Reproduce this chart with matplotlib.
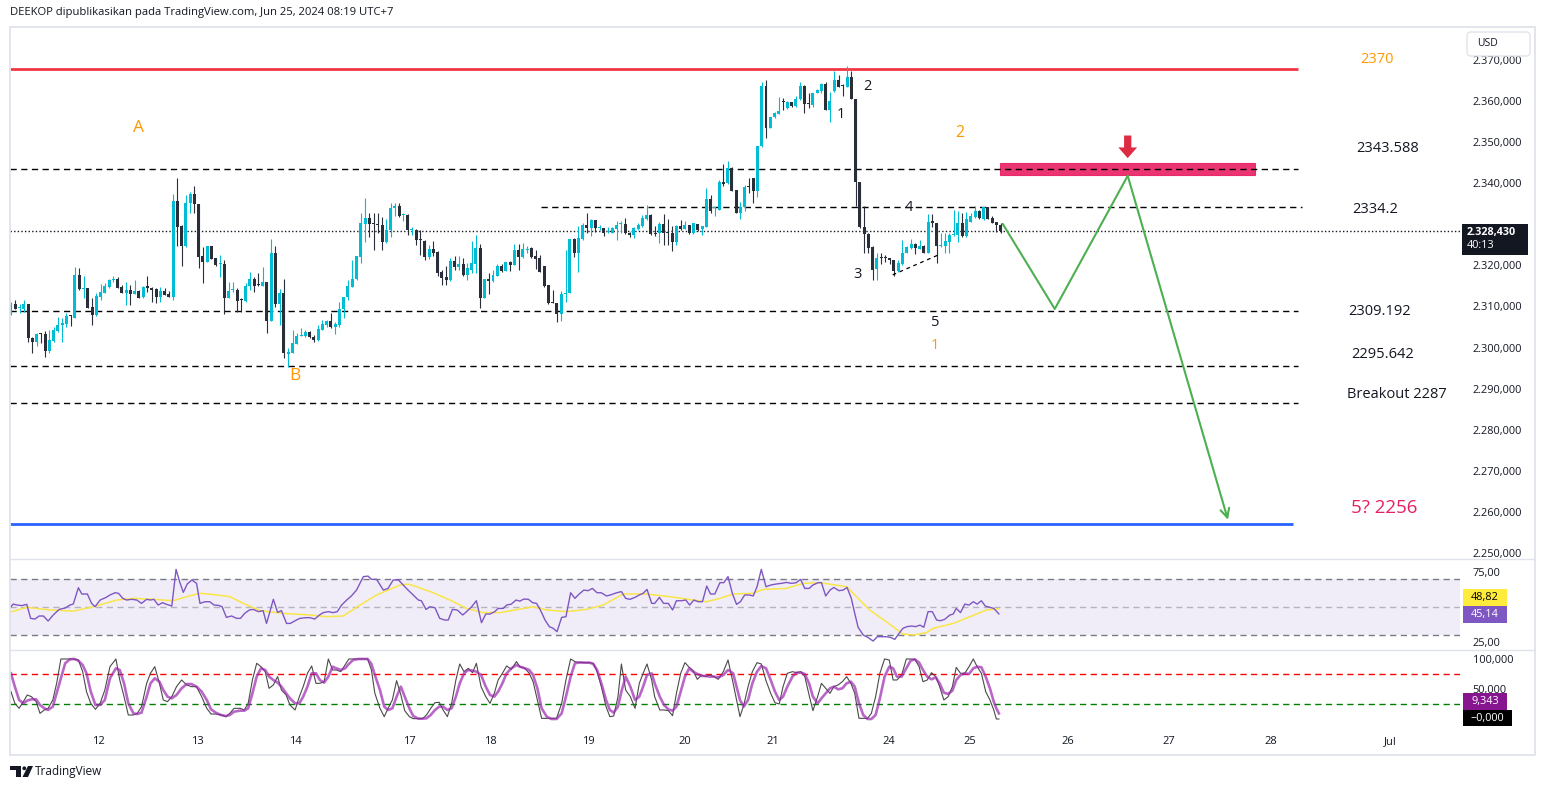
import matplotlib
matplotlib.use('Agg')
import matplotlib.pyplot as plt
from matplotlib.patches import Rectangle, FancyBboxPatch, Polygon, Circle, FancyArrow
from matplotlib.lines import Line2D
from matplotlib.transforms import Affine2D
import numpy as np

plt.rcParams['font.family'] = ['Open Sans', 'DejaVu Sans']

W, H = 1545, 789

# ── DATA: hourly XAUUSD candles (Jun 12 -> Jun 25) ─────────────────
opens = [
    2308.2, 2310.5, 2309.7, 2309.5, 2310.5, 2302.4, 2301.4, 2303.3, 2303.3, 2299.2,
    2301.7, 2304.1, 2305.5, 2305.7, 2307.8, 2307.3, 2317.6, 2314.3, 2314.4, 2309.9,
    2307.9, 2312.2, 2313.4, 2314.8, 2316.4, 2316.7, 2314.8, 2313.4, 2314.0, 2313.0,
    2313.8, 2312.4, 2314.7, 2314.6, 2314.2, 2312.2, 2313.8, 2313.0, 2312.4, 2335.7,
    2329.6, 2324.7, 2335.1, 2337.4, 2334.9, 2322.3, 2320.9, 2324.7, 2321.7, 2320.3,
    2320.4, 2312.1, 2313.9, 2314.0, 2311.6, 2311.4, 2315.0, 2316.7, 2315.3, 2315.1,
    2315.9, 2306.5, 2323.1, 2310.5, 2313.2, 2298.5, 2298.8, 2300.9, 2302.7, 2302.9,
    2303.7, 2302.6, 2301.8, 2304.4, 2305.6, 2306.5, 2305.1, 2305.5, 2309.5, 2312.2,
    2314.8, 2316.7, 2322.1, 2330.1, 2331.6, 2330.1, 2330.0, 2329.8, 2325.8, 2328.6,
    2333.9, 2334.4, 2332.3, 2332.3, 2328.6, 2328.6, 2326.2, 2326.0, 2322.1, 2324.0,
    2323.3, 2318.3, 2317.2, 2316.4, 2321.1, 2319.5, 2320.3, 2317.7, 2319.0, 2320.3,
    2324.3, 2312.1, 2316.7, 2316.2, 2317.5, 2319.8, 2318.7, 2320.8, 2320.1, 2323.7,
    2322.1, 2323.8, 2324.3, 2322.3, 2321.7, 2319.8, 2315.2, 2311.0, 2310.9, 2308.1,
    2313.0, 2313.4, 2326.4, 2323.1, 2326.4, 2329.8, 2329.2, 2331.0, 2329.0, 2329.0,
    2328.1, 2328.0, 2328.8, 2330.0, 2330.1, 2328.0, 2327.5, 2328.8, 2329.7, 2331.3,
    2332.3, 2328.0, 2327.8, 2330.1, 2328.0, 2328.0, 2325.8, 2329.6, 2328.8, 2329.8,
    2327.8, 2330.0, 2328.8, 2329.4, 2336.1, 2334.0, 2333.5, 2340.4, 2340.0, 2343.8,
    2338.4, 2332.8, 2334.3, 2339.1, 2341.2, 2338.2, 2349.1, 2363.7, 2353.4, 2356.0,
    2356.8, 2359.8, 2358.2, 2359.8, 2358.9, 2360.4, 2363.7, 2359.3, 2359.0, 2361.9,
    2362.5, 2364.1, 2357.8, 2362.5, 2365.0, 2363.7, 2363.5, 2365.9, 2360.4, 2340.2,
    2329.4, 2327.7, 2324.4, 2319.1, 2321.8, 2321.8, 2321.5, 2321.3, 2318.7, 2320.4,
    2323.1, 2324.2, 2325.2, 2324.0, 2324.8, 2323.1, 2330.5, 2330.4, 2324.6, 2324.7,
    2325.8, 2327.3, 2327.3, 2330.2, 2327.2, 2330.6, 2331.7, 2333.3, 2331.2, 2334.1,
    2331.5, 2330.5, 2329.8,
]
highs = [
    2311.0, 2311.7, 2310.5, 2311.6, 2310.6, 2302.6, 2303.5, 2303.6, 2304.1, 2304.3,
    2305.1, 2307.5, 2307.3, 2308.3, 2307.9, 2319.5, 2319.3, 2317.4, 2314.4, 2312.1,
    2313.2, 2315.4, 2315.6, 2316.8, 2317.4, 2317.2, 2315.2, 2316.0, 2315.2, 2316.4,
    2314.0, 2315.0, 2317.4, 2314.8, 2314.4, 2314.8, 2314.4, 2313.8, 2337.4, 2341.2,
    2329.8, 2337.1, 2337.9, 2339.3, 2334.9, 2324.4, 2324.7, 2324.7, 2321.9, 2322.5,
    2321.3, 2315.9, 2316.0, 2314.4, 2312.1, 2315.6, 2318.3, 2317.1, 2318.1, 2319.7,
    2315.9, 2326.5, 2324.6, 2314.3, 2316.7, 2299.8, 2304.3, 2303.6, 2304.7, 2304.3,
    2304.1, 2303.1, 2305.5, 2306.7, 2306.7, 2308.3, 2306.3, 2311.2, 2312.4, 2316.4,
    2321.3, 2322.3, 2332.7, 2336.3, 2332.8, 2332.7, 2332.7, 2331.8, 2331.4, 2335.1,
    2335.1, 2335.3, 2332.8, 2332.4, 2329.4, 2328.8, 2328.6, 2326.2, 2325.0, 2325.9,
    2323.5, 2318.9, 2319.8, 2321.9, 2322.3, 2322.3, 2321.7, 2320.5, 2326.0, 2327.4,
    2325.2, 2316.7, 2318.1, 2318.9, 2320.3, 2320.3, 2320.8, 2321.0, 2325.2, 2325.2,
    2325.4, 2324.7, 2324.4, 2323.7, 2322.5, 2319.8, 2315.2, 2314.0, 2310.9, 2313.8,
    2323.7, 2326.4, 2326.6, 2329.6, 2330.2, 2332.8, 2331.4, 2331.0, 2329.8, 2329.0,
    2329.4, 2329.4, 2330.8, 2330.8, 2331.6, 2328.2, 2329.4, 2330.4, 2332.3, 2334.7,
    2332.4, 2329.6, 2330.6, 2332.5, 2331.3, 2329.6, 2329.8, 2331.0, 2330.9, 2329.8,
    2330.4, 2330.1, 2329.6, 2338.9, 2337.1, 2334.2, 2340.8, 2344.7, 2345.5, 2343.9,
    2338.4, 2335.5, 2339.6, 2341.2, 2341.2, 2349.1, 2364.7, 2365.1, 2356.2, 2357.4,
    2360.9, 2360.8, 2360.1, 2359.8, 2361.1, 2364.5, 2363.9, 2361.9, 2362.0, 2362.8,
    2364.3, 2364.7, 2362.3, 2367.4, 2366.3, 2364.1, 2368.5, 2367.4, 2360.4, 2340.4,
    2334.5, 2328.0, 2324.6, 2322.9, 2322.9, 2322.5, 2321.7, 2321.3, 2321.3, 2326.2,
    2324.6, 2326.4, 2325.5, 2326.2, 2325.0, 2332.5, 2332.5, 2330.4, 2327.8, 2328.0,
    2327.8, 2333.5, 2333.3, 2332.7, 2333.1, 2332.7, 2334.5, 2333.5, 2334.3, 2334.1,
    2331.9, 2330.6, 2330.4,
]
lows = [
    2308.0, 2309.4, 2308.5, 2308.7, 2301.4, 2298.6, 2300.5, 2301.2, 2297.6, 2298.6,
    2301.4, 2303.9, 2301.4, 2305.1, 2305.3, 2307.2, 2314.0, 2312.1, 2309.7, 2305.5,
    2307.7, 2311.7, 2313.2, 2314.4, 2316.0, 2314.4, 2313.2, 2310.4, 2310.4, 2313.0,
    2312.0, 2312.0, 2313.6, 2311.2, 2310.8, 2311.2, 2312.7, 2312.2, 2311.6, 2324.8,
    2319.8, 2324.5, 2332.8, 2332.7, 2319.3, 2315.6, 2320.9, 2321.5, 2319.8, 2317.2,
    2308.1, 2312.1, 2313.6, 2308.7, 2308.7, 2311.2, 2314.0, 2313.6, 2315.0, 2315.1,
    2303.6, 2306.5, 2309.9, 2305.5, 2297.5, 2295.4, 2298.6, 2300.9, 2302.7, 2302.6,
    2302.4, 2301.4, 2301.7, 2304.3, 2305.1, 2304.7, 2303.3, 2305.1, 2307.3, 2311.6,
    2314.7, 2316.4, 2320.7, 2325.8, 2327.0, 2323.7, 2327.8, 2323.7, 2325.4, 2327.0,
    2332.1, 2331.8, 2330.9, 2327.5, 2327.4, 2325.0, 2322.5, 2321.3, 2321.5, 2322.3,
    2317.4, 2315.2, 2315.2, 2316.2, 2319.0, 2319.0, 2317.4, 2316.4, 2318.1, 2318.2,
    2309.7, 2312.1, 2313.0, 2315.9, 2317.4, 2318.5, 2318.7, 2318.7, 2320.1, 2318.9,
    2321.9, 2322.9, 2321.9, 2319.2, 2318.5, 2314.8, 2310.7, 2310.8, 2306.3, 2306.5,
    2311.2, 2313.4, 2322.0, 2318.5, 2326.2, 2328.0, 2327.2, 2328.2, 2328.6, 2327.2,
    2327.8, 2327.8, 2326.3, 2327.8, 2327.6, 2327.0, 2326.6, 2328.6, 2329.4, 2331.0,
    2327.4, 2327.1, 2325.5, 2324.9, 2324.9, 2323.5, 2325.0, 2328.6, 2328.8, 2327.6,
    2327.6, 2328.4, 2327.4, 2329.4, 2332.7, 2332.1, 2333.5, 2339.2, 2339.8, 2338.2,
    2332.7, 2331.4, 2333.3, 2337.5, 2335.1, 2336.7, 2348.7, 2351.1, 2353.4, 2355.8,
    2356.8, 2357.8, 2358.0, 2358.6, 2358.6, 2360.3, 2357.0, 2358.2, 2358.5, 2361.9,
    2361.9, 2357.7, 2355.0, 2362.3, 2363.5, 2361.2, 2363.3, 2360.4, 2334.5, 2329.0,
    2323.1, 2323.1, 2316.5, 2316.5, 2320.3, 2320.9, 2320.3, 2317.4, 2318.5, 2320.1,
    2323.0, 2324.1, 2322.8, 2323.9, 2323.0, 2322.9, 2329.4, 2320.7, 2324.4, 2323.0,
    2323.1, 2327.2, 2325.8, 2327.0, 2326.8, 2330.6, 2331.5, 2331.2, 2331.1, 2331.2,
    2330.3, 2328.2, 2328.0,
]
closes = [
    2310.5, 2309.5, 2309.8, 2310.5, 2302.4, 2301.4, 2303.3, 2303.2, 2299.2, 2301.8,
    2304.3, 2305.6, 2305.9, 2307.8, 2307.7, 2317.6, 2314.2, 2314.4, 2309.7, 2307.9,
    2312.5, 2313.5, 2315.0, 2316.4, 2316.8, 2314.6, 2313.4, 2314.0, 2313.0, 2313.8,
    2312.1, 2314.8, 2314.6, 2314.0, 2312.2, 2313.8, 2312.7, 2312.2, 2335.7, 2329.4,
    2324.8, 2335.1, 2337.4, 2334.9, 2322.1, 2320.9, 2324.7, 2321.5, 2320.2, 2320.4,
    2312.1, 2313.8, 2314.0, 2311.4, 2311.5, 2315.1, 2316.7, 2315.0, 2315.2, 2315.9,
    2306.5, 2323.1, 2310.5, 2313.2, 2298.6, 2298.9, 2301.1, 2302.9, 2303.1, 2303.7,
    2302.5, 2301.8, 2304.5, 2305.7, 2306.5, 2305.1, 2305.7, 2309.5, 2312.2, 2315.0,
    2316.8, 2322.3, 2330.4, 2331.6, 2330.0, 2330.0, 2329.9, 2325.8, 2328.6, 2333.9,
    2334.4, 2332.0, 2332.4, 2328.6, 2328.7, 2326.2, 2326.1, 2322.1, 2324.0, 2323.1,
    2318.2, 2317.0, 2316.4, 2321.1, 2319.7, 2320.3, 2317.7, 2319.4, 2320.6, 2324.3,
    2312.1, 2316.7, 2316.2, 2317.7, 2319.8, 2318.7, 2320.8, 2320.1, 2323.7, 2322.1,
    2323.9, 2323.9, 2322.1, 2321.6, 2318.5, 2315.0, 2310.9, 2310.9, 2308.1, 2313.0,
    2313.4, 2326.4, 2323.1, 2326.6, 2329.8, 2329.2, 2331.0, 2329.0, 2329.1, 2327.8,
    2328.2, 2329.0, 2329.8, 2330.1, 2327.8, 2327.5, 2329.0, 2329.8, 2331.6, 2332.3,
    2327.6, 2327.6, 2330.1, 2328.0, 2327.9, 2325.8, 2329.6, 2328.8, 2329.8, 2327.8,
    2330.2, 2328.6, 2329.6, 2336.1, 2333.3, 2334.1, 2340.4, 2339.8, 2343.8, 2338.2,
    2332.8, 2334.3, 2339.0, 2339.0, 2338.2, 2349.1, 2363.7, 2353.4, 2356.0, 2357.0,
    2357.6, 2359.7, 2359.8, 2358.9, 2360.5, 2363.7, 2359.2, 2359.2, 2361.9, 2362.7,
    2364.1, 2357.8, 2360.0, 2365.1, 2363.5, 2363.6, 2365.9, 2360.4, 2340.4, 2329.4,
    2327.7, 2324.3, 2318.9, 2321.7, 2321.7, 2321.7, 2321.4, 2318.7, 2320.5, 2323.1,
    2324.4, 2325.2, 2324.2, 2324.8, 2323.1, 2330.5, 2330.4, 2324.6, 2325.0, 2326.0,
    2327.4, 2327.4, 2330.2, 2327.2, 2331.3, 2331.9, 2333.3, 2331.5, 2334.1, 2331.4,
    2330.4, 2329.8, 2328.4,
]
last_price = 2328.43

# horizontal levels drawn on the chart
red_level = 2367.8
dash_levels = [2343.4, 2309.0, 2295.5, 2286.4]
mid_level = 2334.2
blue_level = 2257.0

# projected path (bar index, price)
path_x = [232.5, 244.7, 261.8, 285.3]
path_y = [2330.1, 2309.4, 2341.8, 2258.1]

# date axis
date_pos = [20.4, 43.6, 66.6, 93.3, 112.3, 135.3, 158.0, 178.6, 205.8, 224.8, 247.8, 271.4, 295.4, 323.3]
date_lab = ['12', '13', '14', '17', '18', '19', '20', '21', '24', '25', '26', '27', '28', 'Jul']

# RSI (bar, value)
rsi_pts = [
    (0.0, 50.2), (0.5, 52.1), (1.5, 51.4), (2.5, 51.0), (3.7, 51.9), (4.6, 41.9), (5.6, 41.4), (6.6, 43.6), (7.6, 43.6), (8.7, 40.0),
    (9.9, 44.3), (11.3, 48.3), (12.7, 49.3), (13.8, 51.4), (14.6, 52.1), (15.8, 63.8), (16.6, 59.3), (17.9, 59.3), (18.9, 52.6), (19.7, 50.2),
    (20.9, 55.0), (22.3, 56.9), (23.2, 58.6), (24.4, 60.2), (25.2, 59.8), (26.2, 56.2), (27.1, 55.0), (28.3, 55.5), (29.5, 55.0), (30.6, 52.6),
    (31.8, 55.5), (32.7, 55.0), (33.5, 55.5), (34.5, 51.4), (35.5, 53.1), (36.5, 51.9), (37.7, 50.7), (38.7, 76.9), (39.6, 67.4), (40.4, 60.5),
    (41.3, 66.4), (42.4, 69.3), (43.5, 66.9), (44.3, 52.6), (45.5, 53.8), (46.6, 53.8), (47.6, 51.4), (48.6, 51.2), (49.5, 50.2), (50.5, 42.6),
    (51.7, 43.6), (52.9, 41.9), (53.8, 41.9), (54.8, 45.5), (55.9, 47.9), (56.8, 48.3), (58.0, 46.7), (59.1, 47.4), (59.9, 38.3), (60.7, 46.7),
    (61.5, 55.5), (62.5, 46.2), (63.4, 47.4), (64.6, 38.3), (65.5, 38.3), (66.6, 40.2), (67.7, 41.9), (69.1, 42.4), (70.1, 42.4), (71.2, 41.4),
    (72.3, 44.3), (73.2, 46.0), (74.4, 46.7), (75.5, 46.0), (76.5, 46.7), (77.5, 51.4), (78.7, 55.0), (79.8, 57.9), (81.0, 62.1), (82.6, 71.7),
    (83.7, 72.1), (84.5, 69.8), (85.7, 69.8), (87.3, 62.1), (88.4, 63.3), (89.6, 69.3), (90.8, 69.3), (91.6, 66.9), (92.7, 63.3), (94.3, 58.6),
    (95.5, 55.0), (96.2, 54.5), (97.3, 48.3), (98.2, 50.2), (99.4, 49.5), (100.5, 41.9), (101.7, 40.7), (102.5, 40.7), (103.5, 48.3), (104.6, 47.9),
    (105.9, 44.3), (106.8, 46.7), (108.0, 50.2), (109.1, 54.5), (110.3, 38.8), (111.3, 45.0), (112.3, 45.0), (113.4, 46.7), (114.2, 49.0), (115.4, 49.0),
    (116.2, 51.4), (117.3, 52.1), (118.4, 55.0), (119.3, 54.2), (120.2, 55.7), (121.3, 55.5), (122.3, 53.1), (123.2, 52.6), (124.1, 47.9), (125.2, 40.7),
    (126.2, 36.0), (127.1, 34.8), (128.0, 32.4), (129.1, 42.6), (130.1, 43.1), (131.2, 60.2), (132.2, 56.2), (133.2, 59.3), (134.3, 62.1), (135.3, 61.7),
    (136.3, 63.3), (137.4, 60.2), (138.4, 60.2), (139.6, 57.9), (140.5, 58.6), (142.0, 60.2), (143.1, 61.0), (144.1, 56.2), (145.1, 55.5), (146.3, 56.9),
    (147.3, 58.6), (148.2, 59.8), (149.1, 62.6), (150.2, 52.6), (150.9, 52.6), (152.0, 56.9), (153.0, 52.6), (154.1, 52.6), (155.1, 47.9), (156.0, 54.5),
    (157.2, 54.5), (158.2, 55.0), (159.1, 51.4), (160.1, 55.0), (161.1, 53.8), (162.1, 53.8), (163.1, 65.0), (164.0, 59.3), (165.0, 59.3), (166.2, 67.4),
    (167.1, 67.4), (168.1, 71.7), (169.1, 59.8), (170.1, 51.9), (171.0, 53.8), (172.0, 58.6), (173.1, 58.6), (174.0, 57.9), (174.9, 64.5), (175.9, 76.9),
    (177.0, 64.5), (178.1, 65.7), (179.3, 66.4), (180.6, 66.9), (181.8, 67.6), (183.0, 66.9), (184.1, 67.4), (185.1, 69.8), (186.1, 63.3), (187.1, 63.3),
    (188.0, 65.7), (189.2, 67.4), (190.0, 67.4), (191.0, 57.9), (192.0, 62.1), (192.9, 64.0), (194.1, 61.7), (195.1, 62.1), (196.0, 64.0), (197.0, 56.2),
    (197.8, 45.5), (198.6, 35.5), (199.8, 30.0), (200.9, 28.3), (202.1, 25.7), (203.1, 28.8), (204.1, 28.8), (205.2, 28.8), (206.2, 28.3), (207.2, 26.9),
    (208.2, 31.2), (209.1, 34.8), (210.1, 36.0), (211.1, 36.4), (212.1, 36.0), (213.1, 37.1), (214.0, 35.5), (215.0, 46.7), (216.0, 46.7), (217.0, 40.7),
    (217.9, 40.2), (218.9, 41.2), (220.1, 44.3), (220.9, 45.0), (221.6, 49.0), (222.6, 46.0), (223.6, 52.1), (224.6, 51.4), (225.6, 53.8), (226.5, 52.1),
    (227.5, 54.5), (228.4, 50.7), (229.5, 49.8), (230.4, 49.0), (231.6, 45.1),
]
rsi_ma_pts = [
    (0.0, 46.5), (3.7, 49.8), (9.1, 47.9), (14.6, 47.1), (19.3, 50.2), (24.8, 55.0), (28.7, 56.2), (33.4, 55.5), (38.0, 54.5), (41.2, 57.4),
    (44.3, 59.8), (47.4, 59.0), (51.3, 57.4), (54.5, 52.6), (58.4, 47.4), (63.8, 45.5), (70.1, 44.3), (74.0, 43.1), (77.9, 43.6), (81.8, 51.4),
    (85.7, 58.6), (88.8, 62.6), (91.2, 65.7), (93.1, 66.4), (95.1, 64.5), (99.0, 60.2), (102.9, 55.0), (106.8, 49.0), (110.7, 46.0), (114.6, 46.0),
    (119.3, 48.5), (122.4, 50.2), (125.6, 47.9), (130.2, 46.7), (134.9, 48.3), (138.8, 51.4), (143.5, 59.3), (149.0, 59.3), (154.5, 57.4), (159.9, 55.0),
    (163.1, 53.8), (166.2, 56.2), (169.3, 59.3), (174.0, 59.8), (176.3, 62.6), (181.8, 63.3), (185.7, 66.9), (189.6, 67.4), (195.9, 64.5), (198.2, 57.4),
    (201.3, 47.9), (205.2, 39.5), (209.1, 30.7), (211.5, 30.0), (214.6, 31.7), (216.2, 34.8), (220.9, 38.3), (224.8, 43.1), (228.7, 47.9), (231.6, 48.8),
]

# Stochastic %K / %D (bar, value)
stoch_k_pts = [
    (0.0, 45.6), (0.9, 26.1), (1.9, 17.8), (2.9, 28.9), (3.8, 40.0), (4.8, 37.2), (5.9, 28.9), (6.8, 9.4), (7.8, 15.0), (8.7, 17.8),
    (9.8, 31.7), (10.7, 59.4), (11.7, 100), (12.7, 100), (13.8, 100), (14.8, 100), (15.8, 98.3), (16.8, 78.9), (17.7, 45.6), (18.7, 26.1),
    (19.8, 16.1), (20.9, 26.1), (22.0, 48.3), (23.2, 87.2), (24.6, 100), (25.5, 65.0), (26.5, 37.2), (27.5, 6.7), (28.7, 6.7), (29.6, 9.4),
    (30.6, 20.6), (31.8, 59.4), (32.7, 76.1), (33.7, 87.2), (34.8, 59.4), (35.7, 31.7), (36.7, 28.9), (37.7, 37.2), (38.8, 53.9), (40.0, 65.0),
    (41.2, 56.7), (42.3, 53.9), (43.5, 53.9), (44.7, 37.2), (45.9, 17.8), (46.9, 8.3), (48.0, 8.3), (49.2, 6.7), (50.4, 3.9), (51.3, 9.4),
    (52.3, 17.8), (53.7, 17.8), (54.7, 15.0), (55.6, 26.1), (56.6, 65.0), (57.6, 92.8), (58.6, 87.2), (59.6, 78.9), (60.5, 51.1), (61.5, 56.7),
    (62.5, 70.6), (63.4, 48.3), (64.5, 40.0), (65.4, 23.3), (66.6, 15.0), (67.6, 37.2), (68.5, 53.9), (69.5, 76.1), (70.5, 88.3), (71.5, 59.4),
    (72.4, 59.4), (73.4, 62.2), (74.4, 100), (75.4, 81.7), (76.3, 81.7), (77.3, 78.9), (78.3, 90.0), (79.2, 100), (80.2, 100), (81.4, 100),
    (82.6, 100), (83.6, 100), (84.5, 81.7), (85.3, 42.8), (86.5, 17.8), (87.5, 3.9), (88.4, 17.8), (89.4, 31.7), (90.4, 63.9), (91.4, 40.0),
    (92.3, 13.9), (93.4, 3.9), (94.3, 0.6), (95.5, 0.6), (96.5, 0.6), (97.4, 6.7), (98.4, 17.8), (99.4, 27.2), (100.4, 27.8), (101.3, 15.0),
    (102.3, 3.9), (103.3, 26.1), (104.3, 65.0), (105.2, 91.7), (106.2, 78.9), (107.2, 84.4), (108.2, 77.2), (109.1, 92.8), (110.2, 53.9), (111.3, 37.2),
    (112.3, 26.1), (113.3, 42.8), (114.2, 65.0), (115.2, 76.1), (116.2, 88.3), (117.3, 82.8), (118.5, 95.6), (119.3, 87.2), (120.5, 84.4), (121.5, 76.1),
    (122.4, 62.2), (123.4, 31.7), (124.4, 1.1), (125.6, 1.1), (126.7, 1.1), (127.9, 1.1), (129.1, 26.1), (130.1, 65.0), (131.2, 100), (132.2, 95.6),
    (133.4, 93.9), (134.5, 93.9), (135.6, 93.9), (136.5, 92.8), (137.4, 78.9), (138.4, 53.9), (139.5, 20.6), (140.4, 3.9), (141.3, 5.0), (142.3, 37.2),
    (143.1, 91.7), (144.1, 48.3), (145.2, 37.2), (146.3, 17.8), (147.3, 59.4), (148.2, 76.1), (149.1, 91.7), (150.2, 65.0), (150.9, 37.2), (152.1, 15.0),
    (153.1, 15.0), (154.1, 13.9), (155.1, 5.6), (156.0, 42.8), (157.0, 76.1), (158.0, 93.9), (159.0, 86.1), (159.9, 80.6), (160.9, 66.1), (161.9, 73.3),
    (162.9, 70.6), (163.8, 73.3), (164.8, 70.6), (165.8, 66.1), (167.0, 78.9), (168.1, 98.3), (169.3, 59.4), (170.1, 31.7), (170.9, 3.9), (171.8, 23.3),
    (172.8, 53.9), (173.8, 78.9), (174.9, 93.9), (175.9, 91.7), (177.0, 63.9), (178.1, 42.8), (179.1, 27.2), (180.1, 25.0), (181.0, 53.9), (182.0, 76.1),
    (183.2, 78.9), (184.1, 77.2), (185.2, 78.9), (186.1, 70.6), (187.1, 40.0), (188.0, 13.9), (189.1, 37.2), (190.0, 59.4), (191.0, 51.1), (192.0, 42.8),
    (192.9, 53.9), (193.9, 56.7), (194.9, 62.2), (195.9, 70.6), (196.9, 59.4), (197.8, 42.8), (198.8, 1.1), (199.8, 1.1), (200.8, 1.1), (201.7, 9.4),
    (202.7, 37.2), (203.7, 76.1), (204.8, 100), (205.9, 98.3), (206.8, 65.0), (207.7, 65.0), (208.8, 73.3), (209.9, 100), (210.9, 100), (211.9, 99.4),
    (212.9, 87.2), (213.8, 62.2), (214.8, 65.0), (215.8, 77.2), (216.8, 70.6), (217.7, 53.9), (218.7, 31.7), (219.7, 37.2), (220.7, 53.9), (221.6, 86.1),
    (222.6, 76.1), (223.6, 76.1), (224.6, 87.2), (225.6, 100), (226.5, 87.2), (227.5, 76.1), (228.5, 45.6), (229.5, 31.7), (230.4, 15.0), (231.0, 0.0),
    (231.6, 0.0),
]
stoch_d_pts = [
    (0.0, 76.1), (0.9, 53.9), (1.9, 31.7), (2.9, 26.1), (3.8, 30.6), (4.8, 32.8), (5.9, 32.8), (6.8, 23.3), (7.8, 17.8), (8.7, 15.0),
    (9.8, 20.6), (10.7, 42.8), (11.7, 67.8), (12.7, 92.8), (13.8, 99.4), (14.8, 100), (15.8, 97.2), (16.8, 90.0), (17.7, 76.1), (18.7, 45.6),
    (19.8, 23.3), (20.9, 23.3), (22.0, 31.7), (23.2, 67.8), (24.6, 84.4), (25.5, 81.7), (26.5, 59.4), (27.5, 26.1), (28.7, 9.4), (29.6, 8.3),
    (30.6, 10.6), (31.8, 37.2), (32.7, 59.4), (33.7, 67.8), (34.8, 62.2), (35.7, 48.3), (36.7, 37.2), (37.7, 34.4), (38.8, 40.0), (40.0, 51.1),
    (41.2, 58.3), (42.3, 58.3), (43.5, 53.9), (44.7, 45.6), (45.9, 31.7), (46.9, 16.1), (48.0, 10.6), (49.2, 6.7), (50.4, 5.0), (51.3, 6.7),
    (52.3, 12.2), (53.7, 13.9), (54.7, 13.9), (55.6, 17.8), (56.6, 42.8), (57.6, 70.6), (58.6, 84.4), (59.6, 81.7), (60.5, 70.6), (61.5, 65.0),
    (62.5, 60.6), (63.4, 53.9), (64.5, 42.8), (65.4, 34.4), (66.6, 26.1), (67.6, 26.1), (68.5, 37.2), (69.5, 53.9), (70.5, 76.1), (71.5, 76.1),
    (72.4, 65.0), (73.4, 60.6), (74.4, 70.6), (75.4, 87.2), (76.3, 84.4), (77.3, 81.7), (78.3, 84.4), (79.2, 91.7), (80.2, 98.3), (81.4, 100),
    (82.6, 100), (83.6, 100), (84.5, 91.7), (85.3, 73.3), (86.5, 48.3), (87.5, 20.6), (88.4, 15.0), (89.4, 17.8), (90.4, 37.2), (91.4, 53.9),
    (92.3, 37.2), (93.4, 17.8), (94.3, 5.0), (95.5, 0.6), (96.5, 0.6), (97.4, 1.1), (98.4, 6.7), (99.4, 15.0), (100.4, 20.6), (101.3, 20.6),
    (102.3, 15.0), (103.3, 17.8), (104.3, 37.2), (105.2, 59.4), (106.2, 76.1), (107.2, 81.7), (108.2, 80.6), (109.1, 78.9), (110.2, 73.3), (111.3, 53.9),
    (112.3, 40.0), (113.3, 37.2), (114.2, 45.6), (115.2, 59.4), (116.2, 76.1), (117.3, 84.4), (118.5, 90.0), (119.3, 87.2), (120.5, 84.4), (121.5, 81.7),
    (122.4, 73.3), (123.4, 51.1), (124.4, 17.8), (125.6, 3.9), (126.7, 0.0), (127.9, 0.0), (129.1, 9.4), (130.1, 37.2), (131.2, 70.6), (132.2, 92.8),
    (133.4, 94.4), (134.5, 93.9), (135.6, 93.9), (136.5, 91.7), (137.4, 81.7), (138.4, 59.4), (139.5, 31.7), (140.4, 15.0), (141.3, 10.6), (142.3, 20.6),
    (143.1, 45.6), (144.1, 70.6), (145.2, 53.9), (146.3, 31.7), (147.3, 37.2), (148.2, 53.9), (149.1, 73.3), (150.2, 76.1), (150.9, 59.4), (152.1, 37.2),
    (153.1, 23.3), (154.1, 16.1), (155.1, 13.9), (156.0, 20.6), (157.0, 45.6), (158.0, 70.6), (159.0, 84.4), (159.9, 78.9), (160.9, 75.0), (161.9, 71.7),
    (162.9, 71.7), (163.8, 70.6), (164.8, 70.6), (165.8, 69.4), (167.0, 73.3), (168.1, 81.7), (169.3, 76.1), (170.1, 53.9), (170.9, 31.7), (171.8, 20.6),
    (172.8, 31.7), (173.8, 59.4), (174.9, 78.9), (175.9, 88.3), (177.0, 84.4), (178.1, 65.0), (179.1, 45.6), (180.1, 31.7), (181.0, 37.2), (182.0, 53.9),
    (183.2, 70.6), (184.1, 77.2), (185.2, 77.2), (186.1, 75.0), (187.1, 59.4), (188.0, 37.2), (189.1, 26.1), (190.0, 34.4), (191.0, 42.8), (192.0, 51.1),
    (192.9, 53.9), (193.9, 49.4), (194.9, 51.1), (195.9, 59.4), (196.9, 62.2), (197.8, 53.9), (198.8, 26.1), (199.8, 6.7), (200.8, 0.0), (201.7, 0.0),
    (202.7, 6.7), (203.7, 34.4), (204.8, 70.6), (205.9, 87.2), (206.8, 84.4), (207.7, 70.6), (208.8, 70.6), (209.9, 84.4), (210.9, 97.2), (211.9, 99.4),
    (212.9, 93.9), (213.8, 81.7), (214.8, 70.6), (215.8, 66.1), (216.8, 69.4), (217.7, 59.4), (218.7, 43.9), (219.7, 41.7), (220.7, 47.2), (221.6, 65.0),
    (222.6, 73.3), (223.6, 76.1), (224.6, 75.0), (225.6, 84.4), (226.5, 87.2), (227.5, 86.1), (228.5, 70.6), (229.5, 51.1), (230.4, 28.9), (231.0, 17.8),
    (231.6, 9.3),
]

# ── COLOURS ───────────────────────────────────────────────
UP, DN = '#00BCD4', '#2A2E39'
TXT = '#131722'
GRID = '#E0E3EB'
ORANGE = '#FF9800'
PINK = '#E91E63'

fig = plt.figure(figsize=(W / 100, H / 100), dpi=100)
fig.patch.set_facecolor('white')
# pixel transform (origin top-left) for the screen furniture
tpx = Affine2D().scale(1 / 100, -1 / 100).translate(0, H / 100) + fig.dpi_scale_trans


def rect(x0, y0, x1, y1):
    return [x0 / W, 1 - y1 / H, (x1 - x0) / W, (y1 - y0) / H]


XL = (-0.234, 339.7)
ax = fig.add_axes(rect(10, 28, 1460, 557))
ax_rsi = fig.add_axes(rect(10, 560, 1460, 650))
ax_st = fig.add_axes(rect(10, 651, 1460, 728))
for a in (ax, ax_rsi, ax_st):
    a.set_xlim(*XL)
    a.set_facecolor('none')
    for s in a.spines.values():
        s.set_visible(False)
    a.yaxis.tick_right()
    a.tick_params(axis='y', length=0, pad=9, labelsize=7.9, labelcolor=TXT)
    a.tick_params(axis='x', length=0)
ax.set_xticks([])
ax_rsi.set_xticks([])

# ── MAIN PANE ─────────────────────────────────────────────
ax.set_ylim(2249.05, 2377.76)
yt = list(range(2250, 2371, 10))
ax.set_yticks(yt)
# 2.330,000 sits under the live price tag, as on the screen
ax.set_yticklabels(['' if v == 2330 else f"{v // 1000}.{v % 1000:03d},000" for v in yt])

n = min(len(opens), len(highs), len(lows), len(closes))
o = np.array(opens[:n]); h = np.array(highs[:n]); l = np.array(lows[:n]); c = np.array(closes[:n])
xb = np.arange(n)
cols = np.where(c >= o, UP, DN)
ax.vlines(xb, l, h, colors=cols, lw=0.8, zorder=4)
ax.bar(xb, np.maximum(np.abs(c - o), 0.28), bottom=np.minimum(o, c), width=0.7,
       color=cols, linewidth=0, zorder=5)

dash = (0, (4.5, 3.2))
ax.hlines(red_level, XL[0], 301.7, color='#F23645', lw=2.0, zorder=3)
ax.hlines(blue_level, XL[0], 300.5, color='#2962FF', lw=2.0, zorder=3)
for lv in dash_levels:
    ax.hlines(lv, XL[0], 301.7, color='black', lw=1.0, linestyles=[dash], zorder=3)
ax.hlines(mid_level, 124.2, 302.6, color='black', lw=1.0, linestyles=[dash], zorder=3)
ax.hlines(last_price, XL[0], XL[1], color=TXT, lw=1.0, linestyles=[(0, (1, 1.6))], zorder=3)

# sell zone and arrow
ax.add_patch(Rectangle((231.8, 2342.0), 59.8, 2.9, facecolor=PINK, edgecolor=PINK,
                       alpha=0.9, lw=0.8, zorder=2))
ax.add_patch(FancyArrow(261.8, 2351.6, 0, -5.5, width=1.7, head_width=4.4, head_length=2.6,
                        length_includes_head=True, color='#DC2B43', lw=0, zorder=6))

# projected path
ax.plot(path_x[:3], path_y[:3], color='#4CAF50', lw=1.5, zorder=6, solid_capstyle='round')
ax.annotate('', xy=(path_x[3], path_y[3]), xytext=(path_x[2], path_y[2]),
            arrowprops=dict(arrowstyle='->', color='#4CAF50', lw=1.5, shrinkA=0, shrinkB=0,
                            mutation_scale=16), zorder=6)

# small trend line under wave 3-4
ax.plot([206.7, 217.3], [2317.7, 2322.5], color='black', lw=0.9, ls=(0, (3, 3)), zorder=6)

# wave labels
for s, bx, py, col, fs in [('A', 29.8, 2353.4, ORANGE, 12.5), ('B', 66.6, 2293.1, ORANGE, 12.5),
                           ('2', 222.5, 2352.2, ORANGE, 11.5), ('1', 216.6, 2300.4, ORANGE, 10.5),
                           ('1', 194.6, 2356.8, TXT, 10.5), ('2', 200.7, 2363.6, TXT, 10.5),
                           ('3', 198.5, 2317.7, TXT, 10.5), ('4', 210.5, 2334.0, TXT, 10.5),
                           ('5', 216.6, 2306.2, TXT, 10.5)]:
    ax.text(bx, py, s, color=col, fontsize=fs, ha='center', va='center', zorder=7)

# level captions
for s, bx, py, col, fs in [('2370', 320.2, 2370.0, ORANGE, 10.5),
                           ('2343.588', 322.8, 2348.4, TXT, 10.5),
                           ('2334.2', 319.7, 2333.7, TXT, 10.5),
                           ('2309.192', 320.8, 2308.7, TXT, 10.5),
                           ('2295.642', 321.6, 2298.4, TXT, 10.5),
                           ('Breakout 2287', 325.0, 2288.5, TXT, 10.5),
                           ('5? 2256', 321.9, 2261.0, PINK, 13.5)]:
    ax.text(bx, py, s, color=col, fontsize=fs, ha='center', va='center', zorder=7)

# ── RSI PANE ──────────────────────────────────────────────
ax_rsi.set_ylim(19.3, 83.6)
ax_rsi.set_yticks([75, 25])
ax_rsi.set_yticklabels(['75,00', '25,00'])
ax_rsi.axhspan(30, 70, color='#7E57C2', alpha=0.1, lw=0)
for lv, al in [(70, 1.0), (50, 0.5), (30, 1.0)]:
    ax_rsi.axhline(lv, color='#787B86', lw=1.0, ls=dash, alpha=al)
rx, rv = zip(*rsi_pts)
mx, mv = zip(*rsi_ma_pts)
ax_rsi.plot(mx, mv, color='#F9E548', lw=1.1)
ax_rsi.plot(rx, rv, color='#7E57C2', lw=1.0)

# ── STOCH PANE ────────────────────────────────────────────
ax_st.set_ylim(-15, 113.3)
ax_st.set_yticks([100, 50])
ax_st.set_yticklabels(['100,000', '50,000'])
ax_st.axhline(75, color='#FF0000', lw=1.0, ls=dash)
ax_st.axhline(25, color='#008000', lw=1.0, ls=dash)
kx, kv = zip(*stoch_k_pts)
dx, dv = zip(*stoch_d_pts)
ax_st.plot(kx, kv, color='#4A4A4A', lw=0.8)
ax_st.plot(dx, dv, color='#9C27B0', lw=1.9, alpha=0.7)
ax_st.set_xticks(date_pos)
ax_st.set_xticklabels(date_lab)
ax_st.tick_params(axis='x', pad=6, labelsize=8, labelcolor=TXT)

# ── SCREEN FURNITURE ─────────────────────────────────────
fig.text(10, 13, 'DEEKOP dipublikasikan pada TradingView.com, Jun 25, 2024 08:19 UTC+7',
         transform=tpx, fontsize=8.1, color=TXT, va='center', ha='left')
fig.add_artist(Rectangle((10, 27), 1525, 728, transform=tpx, fill=False, edgecolor=GRID, lw=1.3))
for yy in (559, 650):
    fig.add_artist(Line2D([10, 1535], [yy, yy], transform=tpx, color=GRID, lw=1.0))

fig.add_artist(FancyBboxPatch((1467, 32), 63, 24, boxstyle='round,pad=0,rounding_size=4',
                              transform=tpx, facecolor='white', edgecolor=GRID, lw=1.0))
fig.text(1487, 44, 'USD', transform=tpx, fontsize=7.5, color=TXT, ha='center', va='center')

fig.add_artist(Rectangle((1462, 224), 66, 31, transform=tpx, facecolor=TXT, edgecolor='none'))
fig.text(1467, 232, '2.328,430', transform=tpx, fontsize=7.8, color='white', fontweight='bold',
         ha='left', va='center')
fig.text(1467, 246, '40:13', transform=tpx, fontsize=7.8, color='white', ha='left', va='center')

for x0, y0, wd, ht, fc, tc, s in [(1463, 589, 44, 17, '#FFEB3B', 'black', '48,82'),
                                  (1463, 606, 44, 17, '#7E57C2', 'white', '45,14'),
                                  (1463, 693, 44, 17, '#87158F', 'white', '9,343'),
                                  (1463, 710, 49, 16, 'black', 'white', '\u22120,000')]:
    fig.add_artist(Rectangle((x0, y0), wd, ht, transform=tpx, facecolor=fc, edgecolor='none'))
    fig.text(x0 + wd / 2, y0 + ht / 2, s, transform=tpx, fontsize=7.8, color=tc,
             ha='center', va='center')

# TradingView logo
fig.add_artist(Polygon([(10, 766), (21, 766), (21, 777), (16, 777), (16, 770), (10, 770)],
                       closed=True, transform=tpx, facecolor=TXT, edgecolor='none'))
fig.add_artist(Circle((24.3, 768.3), 1.9, transform=tpx, facecolor=TXT, edgecolor='none'))
fig.add_artist(Polygon([(28, 766), (33, 766), (28, 777), (22.5, 777)],
                       closed=True, transform=tpx, facecolor=TXT, edgecolor='none'))
fig.text(35, 771, 'TradingView', transform=tpx, fontsize=8.5, color=TXT, ha='left', va='center')

plt.savefig('out.png', dpi=100, facecolor='white')
plt.close()
